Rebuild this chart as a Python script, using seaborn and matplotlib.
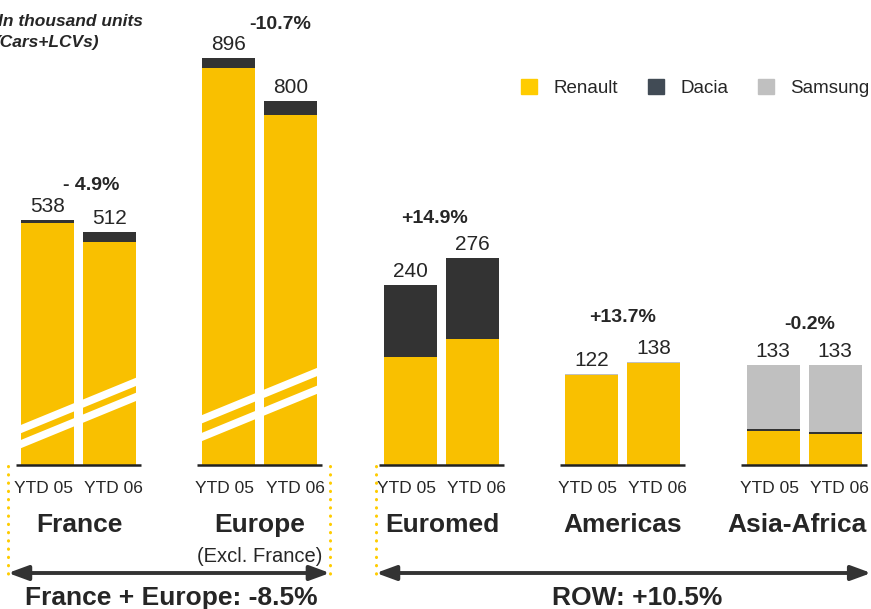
import matplotlib.pyplot as plt
import seaborn as sns
import pandas as pd
from matplotlib.patches import Patch

# data (thousand units, Cars+LCVs)
regions = ['France', 'Europe', 'Euromed', 'Americas', 'Asia-Africa']
periods = ['YTD 05', 'YTD 06']
renault = [532, 490, 874, 770, 144, 168, 120, 136, 46, 41]
dacia = [6, 22, 22, 30, 96, 108, 0, 0, 2, 3]
samsung = [0, 0, 0, 0, 0, 0, 2, 2, 85, 89]
growth = ['- 4.9%', '-10.7%', '+14.9%', '+13.7%', '-0.2%']
zones = ['France + Europe: -8.5%', 'ROW: +10.5%']

RENAULT = '#F9C000'
DACIA = '#333333'
SAMSUNG = '#C0C0C0'

df = pd.DataFrame({
    'region': [r for r in regions for p in periods],
    'period': periods * len(regions),
    'renault': renault,
    'dacia': dacia,
    'samsung': samsung,
})
df['renault_dacia'] = df['renault'] + df['dacia']
df['total'] = df['renault_dacia'] + df['samsung']

home = df[df['region'].isin(regions[:2])]
row = df[df['region'].isin(regions[2:])]

sns.set_theme(style='white')
plt.rcParams['font.family'] = ['Liberation Sans', 'DejaVu Sans']

fig = plt.figure(figsize=(8.71, 6.09), dpi=100)
AX_H = 465  # axes height in pixels
rect = [0, 1 - AX_H / 609, 1, AX_H / 609]
ax1 = fig.add_axes(rect)
ax2 = fig.add_axes(rect)
OFF = 0.171  # half distance between the two bars of a group

for ax, sub, ymax in [(ax1, home, 1023), (ax2, row, 620)]:
    for col, c in [('total', SAMSUNG), ('renault_dacia', DACIA), ('renault', RENAULT)]:
        sns.barplot(data=sub, x='region', y=col, hue='period', order=regions,
                    hue_order=periods, palette=[c, c], width=0.684, gap=0.146,
                    saturation=1, errorbar=None, legend=False, linewidth=0, ax=ax)
    ax.set_xlim(-0.433, 4.369)
    ax.set_ylim(0, ymax)
    ax.axis('off')

# white break marks on France / Europe bars
for g, (y1, y2) in enumerate([(79, 46), (101, 62)]):
    for y0 in (y1, y2):
        ax1.plot([g - 0.33, g + 0.33], [y0 - 2, y0 + 106], color='white', lw=5.5,
                 solid_capstyle='butt', zorder=5)

pct_dx = [13, 20, -7, 0, 6]
pct_dy = [30, 29, 35, 39, 36]
name_dx = [1, 0, 1, 0, -7]
for i, reg in enumerate(regions):
    ax = ax1 if i < 2 else ax2
    ax.hlines(0, i - 0.345, i + 0.345, color='#222222', lw=1.8, clip_on=False, zorder=6)
    sub = df[df['region'] == reg]
    for _, r in sub.iterrows():
        side = -1 if r['period'] == periods[0] else 1
        x = i + side * OFF
        ax.annotate(f"{r['total']}", xy=(x, r['total']), xytext=(0, 8),
                    textcoords='offset pixels', ha='center', va='baseline',
                    fontsize=15, annotation_clip=False)
        ax.annotate(r['period'], xy=(x, 0), xytext=(side * 4, -28), textcoords='offset pixels',
                    ha='center', va='baseline', fontsize=12.5, annotation_clip=False)
    ax.annotate(growth[i], xy=(i, sub['total'].max()), xytext=(pct_dx[i], pct_dy[i]),
                textcoords='offset pixels', ha='center', va='baseline', fontsize=14,
                fontweight='bold', annotation_clip=False)
    ax.annotate(reg, xy=(i, 0), xytext=(name_dx[i], -67), textcoords='offset pixels',
                ha='center', va='baseline', fontsize=19, fontweight='bold',
                annotation_clip=False)

ax1.annotate('(Excl. France)', xy=(1, 0), xytext=(0, -97), textcoords='offset pixels',
             ha='center', va='baseline', fontsize=14.5, annotation_clip=False)

# zone frames, arrows and totals
trans = ax1.get_xaxis_transform()
def below(px):
    return -px / AX_H

for x in (-0.389, 1.386, 1.64):
    ax1.plot([x, x], [below(1), below(110)], transform=trans, color='#FFCC00', lw=2.2,
             ls=(0, (0.1, 2.6)), dash_capstyle='round', clip_on=False)

for (x0, x1, xt), label in zip([(-0.389, 1.386, 0.51), (1.64, 4.37, 3.08)], zones):
    ax1.annotate('', xy=(x1, below(108)), xytext=(x0, below(108)), xycoords=trans,
                 textcoords=trans, annotation_clip=False,
                 arrowprops=dict(arrowstyle='<|-|>,head_length=0.6,head_width=0.22',
                                 color='#333333', lw=2.8, shrinkA=0, shrinkB=0,
                                 mutation_scale=20))
    ax1.text(xt, below(140), label, transform=trans, ha='center', va='baseline',
             fontsize=19, fontweight='bold')

fig.text(143 / 871, 1 - 26 / 609, 'In thousand units', ha='right', va='baseline',
         fontsize=12.5, fontweight='bold', fontstyle='italic')
fig.text(99 / 871, 1 - 47 / 609, '(Cars+LCVs)', ha='right', va='baseline',
         fontsize=12.5, fontweight='bold', fontstyle='italic')

handles = [Patch(color='#FFCC00', label='Renault'),
           Patch(color='#414B55', label='Dacia'),
           Patch(color=SAMSUNG, label='Samsung')]
fig.legend(handles=handles, loc='center left', bbox_to_anchor=(521 / 871, 1 - 88 / 609),
           ncol=3, frameon=False, fontsize=13.5, handlelength=0.86, handleheight=0.86,
           handletextpad=0.86, columnspacing=1.6, borderpad=0, borderaxespad=0)

fig.savefig('out.png', dpi=100)
